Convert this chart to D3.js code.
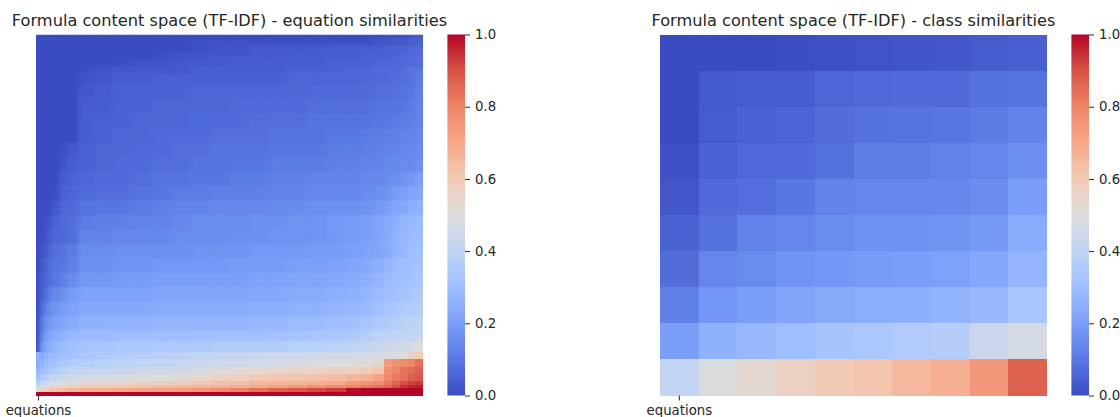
<!DOCTYPE html>
<html>
<head>
<meta charset="utf-8">
<script src="https://cdn.jsdelivr.net/npm/d3@7"></script>
<style>
  html, body { margin: 0; padding: 0; background: #fff; overflow: hidden; }
  svg text { font-family: "DejaVu Sans", sans-serif; fill: #262626; }
</style>
</head>
<body>
<svg id="svg"></svg>
<script>
// matplotlib coolwarm, sampled every 0.1
const coolwarm = ['#3b4cc0', '#5977e3', '#7b9ff9', '#9ebeff', '#c0d4f5', '#dddcdc', '#f2cbb7', '#f7a889', '#ee8468', '#d65244', '#b40426']
const cbarTicks = [0, 0.2, 0.4, 0.6, 0.8, 1]
const xLabel = 'equations'
const titleEq = 'Formula content space (TF-IDF) - equation similarities'
const titleClass = 'Formula content space (TF-IDF) - class similarities'

const eqColEdges = [0, 1, 2, 3, 4, 6, 8, 11, 15, 20, 25, 30, 35, 40, 45, 50, 55, 60, 65, 70, 75, 80, 84, 87, 90, 92, 94, 96, 98, 100]
const eqRowEdges = [0, 1, 3, 5, 7, 9, 11, 14, 18, 22, 26, 30, 34, 38, 42, 46, 50, 54, 58, 62, 66, 70, 74, 78, 82, 85, 88, 90, 92, 94, 96, 97, 98, 99, 100]
// similarity in hundredths
const eqValues = [
  [0,0,0,0,0,0,0,0,0,0,0,0,0,0,0,0,0,0,0,0,0,0,0,0,1,1,1,2,3],
  [0,0,0,0,0,0,0,0,0,0,0,0,0,1,1,1,1,1,1,1,1,1,1,2,2,3,3,4,5],
  [0,0,0,0,0,0,0,0,0,0,0,0,0,1,2,2,3,3,3,3,4,4,4,4,5,5,5,6,7],
  [0,0,0,0,0,0,0,0,0,0,0,1,2,2,3,3,3,3,4,4,4,4,5,5,5,6,6,7,8],
  [0,0,0,0,0,0,0,0,0,1,2,2,3,3,3,4,4,4,4,4,5,5,5,6,6,6,7,7,8],
  [0,0,0,0,0,0,0,1,2,3,3,3,3,4,4,4,4,4,5,5,5,6,6,7,7,7,8,9,10],
  [0,0,0,0,0,0,0,2,3,4,4,5,5,5,5,5,5,5,6,6,6,6,6,7,7,8,8,9,11],
  [0,0,0,0,0,0,0,3,4,5,5,5,5,6,6,6,6,6,6,7,7,7,7,8,8,8,9,10,12],
  [0,0,0,0,0,0,0,4,4,5,5,6,6,6,6,7,7,7,7,8,8,8,8,9,9,9,10,11,13],
  [0,0,0,0,0,0,0,4,5,5,6,6,6,7,7,7,8,8,8,9,9,9,9,10,10,11,11,12,13],
  [0,0,0,0,0,0,0,4,5,6,6,7,7,7,8,8,8,9,9,9,10,10,11,11,12,12,13,13,14],
  [0,0,0,0,0,1,3,5,6,6,7,7,8,8,9,9,9,10,10,10,11,11,12,12,13,13,14,14,15],
  [0,0,0,0,0,2,4,5,6,7,7,8,8,9,9,10,10,11,11,11,12,12,13,13,14,14,15,15,16],
  [0,0,0,0,0,4,5,6,7,7,8,9,9,10,10,11,11,12,12,13,13,13,14,14,15,16,17,18,20],
  [0,0,0,0,1,5,6,7,8,8,9,10,11,11,12,12,12,13,13,14,14,14,15,16,17,19,20,22,23],
  [0,0,0,1,3,6,7,9,10,10,11,12,13,13,14,14,14,15,15,16,16,16,17,18,20,22,23,25,26],
  [0,0,1,2,5,7,8,11,12,12,13,13,14,15,15,15,16,16,17,17,18,19,20,22,23,25,27,28,29],
  [0,1,2,4,6,7,8,13,13,14,14,14,15,15,15,16,16,17,17,17,18,19,20,22,24,26,28,29,30],
  [0,2,3,6,8,9,11,15,15,16,16,16,16,17,17,17,18,18,18,19,19,20,21,22,24,26,28,30,31],
  [0,3,5,7,9,10,12,16,16,17,17,18,18,18,18,19,19,19,20,20,21,22,23,25,27,29,30,31,32],
  [0,4,6,8,10,12,15,18,18,19,19,20,20,20,20,20,21,21,22,22,23,24,25,27,29,30,31,32,33],
  [0,5,8,11,14,16,19,21,21,21,21,22,22,22,22,22,23,23,24,24,25,26,27,29,31,32,33,34,35],
  [0,7,12,15,17,19,21,23,23,23,23,24,24,24,24,24,25,25,26,26,27,28,29,31,33,34,35,36,37],
  [0,11,15,18,20,22,24,26,26,26,26,27,27,27,27,27,28,28,29,29,30,31,33,35,36,37,38,39,40],
  [0,14,19,22,24,26,28,29,29,30,30,30,30,31,31,31,31,32,32,33,34,35,37,39,40,40,41,41,42],
  [0,18,22,25,27,29,31,33,33,34,34,35,35,35,36,36,36,37,38,38,39,40,41,43,44,45,46,47,50],
  [25,24,26,28,29,31,32,34,35,36,37,38,39,40,41,42,43,44,44,45,45,46,46,47,48,49,51,56,60],
  [24,27,29,31,32,34,36,37,38,39,40,41,42,43,44,45,46,47,48,49,50,51,52,53,74,76,78,80,84],
  [27,30,32,34,36,38,40,41,42,43,44,45,46,47,49,51,53,54,55,56,57,58,60,62,76,80,83,85,87],
  [32,35,37,39,41,43,45,46,47,48,49,50,52,54,56,58,60,61,62,63,64,66,68,72,78,82,84,87,89],
  [38,41,44,46,48,50,52,54,55,56,57,58,60,61,63,64,65,66,67,68,70,74,76,78,82,86,90,92,93],
  [45,47,50,52,54,56,58,60,61,62,63,64,65,66,67,68,70,72,74,76,78,80,82,84,86,90,94,96,97],
  [52,56,58,60,62,64,66,68,69,70,71,72,73,75,78,81,84,87,89,91,93,99,100,100,100,100,100,100,100],
  [100,100,100,100,100,100,100,100,100,100,100,100,100,100,100,100,100,100,100,100,100,100,100,100,100,100,100,100,100]
]
// rows above this index get softened, the sharp bottom band stays as is
const softRows = 26

// class panel: 10 x 10
const classIdx = [0, 1, 2, 3, 4, 5, 6, 7, 8, 9]
const classValues = [
  [0.00, 0.00, 0.00, 0.005, 0.01, 0.015, 0.02, 0.025, 0.035, 0.045],
  [0.00, 0.03, 0.035, 0.04, 0.06, 0.065, 0.07, 0.07, 0.085, 0.09],
  [0.00, 0.035, 0.05, 0.055, 0.075, 0.085, 0.09, 0.095, 0.11, 0.13],
  [0.01, 0.05, 0.065, 0.07, 0.085, 0.115, 0.115, 0.125, 0.135, 0.16],
  [0.025, 0.07, 0.08, 0.10, 0.13, 0.135, 0.135, 0.14, 0.155, 0.195],
  [0.05, 0.085, 0.125, 0.135, 0.15, 0.165, 0.165, 0.17, 0.185, 0.24],
  [0.075, 0.135, 0.15, 0.17, 0.18, 0.19, 0.195, 0.205, 0.23, 0.27],
  [0.12, 0.18, 0.20, 0.22, 0.235, 0.245, 0.25, 0.265, 0.285, 0.335],
  [0.20, 0.26, 0.28, 0.30, 0.325, 0.34, 0.355, 0.37, 0.43, 0.47],
  [0.41, 0.49, 0.53, 0.565, 0.60, 0.62, 0.655, 0.68, 0.745, 0.87]
]

const w = 1120
const h = 417
const plotTop = 34.5
const plotBottom = 395.5
const tickLen = 5

const svg = d3.select('#svg').attr('width', w).attr('height', h)
const defs = svg.append('defs')

const color = d3.scaleLinear()
  .domain(coolwarm.map((c, i) => i / (coolwarm.length - 1)))
  .range(coolwarm)
  .interpolate(d3.interpolateRgb)

const grad = defs.append('linearGradient')
  .attr('id', 'cbar').attr('x1', 0).attr('x2', 0).attr('y1', 1).attr('y2', 0)
grad.selectAll('stop').data(coolwarm).enter().append('stop')
  .attr('offset', (d, i) => i / (coolwarm.length - 1))
  .attr('stop-color', d => d)

const drawTitle = (txt, cx) => {
  svg.append('text').attr('x', cx).attr('y', 26)
    .attr('text-anchor', 'middle').style('font-size', '16.2px').text(txt)
}

const styleAxis = g => {
  g.select('.domain').remove()
  g.selectAll('line').attr('stroke', '#262626').attr('stroke-width', 1)
  g.selectAll('text').style('font-size', '13.3px')
}

const drawColorbar = x0 => {
  const cw = 17.6
  const cy = d3.scaleLinear().domain([0, 1]).range([plotBottom, plotTop])
  svg.append('rect').attr('x', x0).attr('y', plotTop)
    .attr('width', cw).attr('height', plotBottom - plotTop).attr('fill', 'url(#cbar)')
  svg.append('g').attr('transform', `translate(${x0 + cw},0)`)
    .call(d3.axisRight(cy).tickValues(cbarTicks).tickFormat(d3.format('.1f')).tickSize(tickLen).tickPadding(5))
    .call(styleAxis)
}

// left panel
const xEq = d3.scaleLinear().domain([0, 100]).range([36, 423])
const yEq = d3.scaleLinear().domain([0, 100]).range([plotTop, plotBottom])

const cellsOf = rows => rows.flatMap((row, r) => row.map((v, c) => ({ v, r, c })))

const drawEqCells = (g, cells) => {
  g.selectAll('rect').data(cells).enter().append('rect')
    .attr('x', d => xEq(eqColEdges[d.c]))
    .attr('y', d => yEq(eqRowEdges[d.r]))
    .attr('width', d => xEq(eqColEdges[d.c + 1]) - xEq(eqColEdges[d.c]))
    .attr('height', d => yEq(eqRowEdges[d.r + 1]) - yEq(eqRowEdges[d.r]))
    .attr('fill', d => color(d.v / 100))
}

drawEqCells(svg.append('g').attr('shape-rendering', 'crispEdges'), cellsOf(eqValues))

defs.append('filter').attr('id', 'soft')
  .attr('x', '-5%').attr('y', '-5%').attr('width', '110%').attr('height', '110%')
  .append('feGaussianBlur').attr('stdDeviation', '2 1.6')

defs.append('clipPath').attr('id', 'softClip').append('rect')
  .attr('x', xEq(0)).attr('y', yEq(0))
  .attr('width', xEq(100) - xEq(0))
  .attr('height', yEq(eqRowEdges[softRows]) - yEq(0))

drawEqCells(
  svg.append('g').attr('clip-path', 'url(#softClip)').append('g').attr('filter', 'url(#soft)'),
  cellsOf(eqValues.slice(0, softRows))
)

svg.append('g').attr('transform', `translate(0,${plotBottom})`)
  .call(d3.axisBottom(xEq).tickValues([0.5]).tickFormat(() => xLabel).tickSize(tickLen).tickPadding(5))
  .call(styleAxis)

drawTitle(titleEq, 229.5)
drawColorbar(447.4)

// right panel
const xClass = d3.scaleBand().domain(classIdx).range([660, 1047])
const yClass = d3.scaleBand().domain(classIdx).range([plotTop, plotBottom])

const classRow = svg.append('g').attr('shape-rendering', 'crispEdges')
  .selectAll('g').data(classValues).enter().append('g')
  .attr('transform', (d, i) => `translate(0,${yClass(i)})`)

classRow.selectAll('rect')
  .data(row => row)
  .enter().append('rect')
  .attr('x', (d, i) => xClass(i))
  .attr('width', xClass.bandwidth())
  .attr('height', yClass.bandwidth())
  .attr('fill', d => color(d))

svg.append('g').attr('transform', `translate(0,${plotBottom})`)
  .call(d3.axisBottom(xClass).tickValues([0]).tickFormat(() => xLabel).tickSize(tickLen).tickPadding(5))
  .call(styleAxis)

drawTitle(titleClass, 853.5)
drawColorbar(1071.4)
</script>
</body>
</html>
